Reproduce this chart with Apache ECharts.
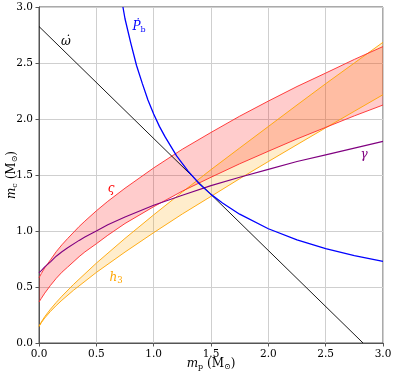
<!DOCTYPE html>
<html>
<head>
<meta charset="utf-8">
<script src="https://cdn.jsdelivr.net/npm/echarts@6/dist/echarts.min.js"></script>
<style>
  html, body { margin: 0; padding: 0; background: #fff; }
  #chart { width: 396px; height: 378px; }
</style>
</head>
<body>
<div id="chart"></div>
<script>
// mass-mass diagram, mp on x, mc on y (solar masses)

// omega-dot (straight line)
const omegaMp = [0, 2.826];
const omegaMc = [2.826, 0];

// Pb-dot
const pbdotMp = [0.732, 0.75, 0.8, 0.85, 0.9, 0.95, 1.0, 1.05, 1.1, 1.2, 1.3, 1.4, 1.5, 1.6, 1.75, 2.0, 2.25, 2.5, 2.75, 3.0];
const pbdotMc = [3.0, 2.895, 2.68, 2.48, 2.32, 2.17, 2.045, 1.934, 1.84, 1.67, 1.535, 1.42, 1.327, 1.25, 1.15, 1.02, 0.92, 0.843, 0.781, 0.729];

// gamma, varsigma band share the same mp samples
const massMp = [0, 0.02, 0.05, 0.1, 0.15, 0.2, 0.25, 0.35, 0.4, 0.5, 0.6, 0.75, 1.0, 1.25, 1.5, 1.75, 2.0, 2.25, 2.5, 2.75, 3.0];
const gammaMc = [0.627, 0.646, 0.68, 0.725, 0.775, 0.815, 0.85, 0.916, 0.946, 1.0, 1.055, 1.125, 1.23, 1.32, 1.405, 1.48, 1.55, 1.62, 1.68, 1.74, 1.80];
const varsigmaHi = [0.582, 0.620, 0.671, 0.742, 0.815, 0.877, 0.933, 1.040, 1.088, 1.180, 1.265, 1.382, 1.563, 1.730, 1.880, 2.025, 2.160, 2.290, 2.410, 2.532, 2.647];
const varsigmaLo = [0.366, 0.398, 0.445, 0.514, 0.577, 0.632, 0.678, 0.771, 0.813, 0.886, 0.962, 1.067, 1.217, 1.356, 1.480, 1.600, 1.712, 1.822, 1.925, 2.028, 2.125];

// h3 band
const h3Mp = [0, 0.02, 0.05, 0.1, 0.15, 0.2, 0.3, 0.5, 0.75, 1.0, 1.25, 1.5, 1.75, 2.0, 2.25, 2.5, 2.75, 3.0];
const h3Hi = [0.148, 0.187, 0.235, 0.302, 0.362, 0.418, 0.522, 0.713, 0.934, 1.144, 1.348, 1.548, 1.741, 1.933, 2.125, 2.315, 2.500, 2.685];
const h3Lo = [0.148, 0.181, 0.223, 0.282, 0.334, 0.382, 0.470, 0.630, 0.812, 0.985, 1.152, 1.309, 1.467, 1.620, 1.771, 1.921, 2.069, 2.217];

const serif = "DejaVu Serif";

function pairs(xs, ys) {
  return xs.map((x, i) => [x, ys[i]]);
}

function curve(name, xs, ys, color, width) {
  return {
    name,
    type: "line",
    data: pairs(xs, ys),
    symbol: "none",
    silent: true,
    lineStyle: { color, width },
    z: 5,
  };
}

function band(name, xs, hi, lo, fill) {
  return {
    name,
    type: "custom",
    data: [[0, 0]],
    silent: true,
    clip: true,
    z: 2,
    renderItem: (params, api) => {
      const points = [];
      xs.forEach((x, i) => points.push(api.coord([x, hi[i]])));
      for (let i = xs.length - 1; i >= 0; --i) {
        points.push(api.coord([xs[i], lo[i]]));
      }
      return {
        type: "polygon",
        shape: { points },
        style: { fill },
      };
    },
  };
}

// small rich-text helper: italic symbol + subscript
function mathRich(color, size, subSize) {
  return {
    i: { fontFamily: serif, fontStyle: "italic", fontSize: size, fill: color },
    r: { fontFamily: serif, fontSize: size, fill: color },
    s: { fontFamily: serif, fontSize: subSize, fill: color, padding: [5, 0, 0, 0] },
  };
}

const chart = echarts.init(document.getElementById("chart"));

const axisLabelStyle = {
  fontFamily: serif,
  fontSize: 10.5,
  color: "#000",
  margin: 6,
  formatter: (v) => v.toFixed(1),
};

const option = {
  animation: false,
  backgroundColor: "#fff",
  grid: {
    left: 39,
    right: 13,
    top: 7,
    bottom: 35,
    containLabel: false,
    outerBoundsMode: "none",
    show: true,
    borderColor: "#555",
    borderWidth: 1,
  },
  xAxis: {
    type: "value",
    min: 0,
    max: 3,
    interval: 0.5,
    axisLine: { show: true, lineStyle: { color: "#555", width: 1 } },
    axisTick: { show: true, length: 3.5, lineStyle: { color: "#555" } },
    axisLabel: axisLabelStyle,
    splitLine: { show: true, lineStyle: { color: "#cfcfcf", width: 1 } },
  },
  yAxis: {
    type: "value",
    min: 0,
    max: 3,
    interval: 0.5,
    axisLine: { show: true, lineStyle: { color: "#555", width: 1 } },
    axisTick: { show: true, length: 3.5, lineStyle: { color: "#555" } },
    axisLabel: axisLabelStyle,
    splitLine: { show: true, lineStyle: { color: "#cfcfcf", width: 1 } },
  },
  series: [
    band("h3 band", h3Mp, h3Hi, h3Lo, "rgba(255,165,0,0.2)"),
    band("varsigma band", massMp, varsigmaHi, varsigmaLo, "rgba(255,0,0,0.2)"),
    curve("h3 hi", h3Mp, h3Hi, "#ffa500", 0.9),
    curve("h3 lo", h3Mp, h3Lo, "#ffa500", 0.9),
    curve("varsigma hi", massMp, varsigmaHi, "#ff2a2a", 0.9),
    curve("varsigma lo", massMp, varsigmaLo, "#ff2a2a", 0.9),
    curve("gamma", massMp, gammaMc, "#800080", 1.1),
    curve("omegadot", omegaMp, omegaMc, "#000000", 0.9),
    curve("pbdot", pbdotMp, pbdotMc, "#0000ff", 1.3),
  ],
  graphic: {
    elements: [
      // axis titles
      {
        type: "text", x: 211, y: 364,
        style: {
          text: "{i|m}{s|p}{r| (M}{s|⊙}{r|)}",
          align: "center", verticalAlign: "middle",
          rich: mathRich("#000", 12, 8),
        },
      },
      {
        type: "text", x: 12, y: 175, rotation: Math.PI / 2,
        style: {
          text: "{i|m}{s|c}{r| (M}{s|⊙}{r|)}",
          align: "center", verticalAlign: "middle",
          rich: mathRich("#000", 12, 8),
        },
      },
      // curve labels
      {
        type: "text", x: 66, y: 42,
        style: {
          text: "ω̇", fill: "#000", font: "italic 12px 'DejaVu Serif'",
          align: "center", verticalAlign: "middle",
        },
      },
      {
        type: "text", x: 139, y: 27,
        style: {
          text: "{i|Ṗ}{s|b}",
          align: "center", verticalAlign: "middle",
          rich: mathRich("#0000ff", 12, 8),
        },
      },
      {
        type: "text", x: 111, y: 189,
        style: {
          text: "ς", fill: "#ff0000", font: "italic 12px 'DejaVu Serif'",
          align: "center", verticalAlign: "middle",
        },
      },
      {
        type: "text", x: 116, y: 278,
        style: {
          text: "{i|h}{s|3}",
          align: "center", verticalAlign: "middle",
          rich: mathRich("#ffa500", 12, 8.5),
        },
      },
      {
        type: "text", x: 364, y: 155,
        style: {
          text: "γ", fill: "#800080", font: "italic 12px 'DejaVu Serif'",
          align: "center", verticalAlign: "middle",
        },
      },
    ],
  },
};

chart.setOption(option);
</script>
</body>
</html>
